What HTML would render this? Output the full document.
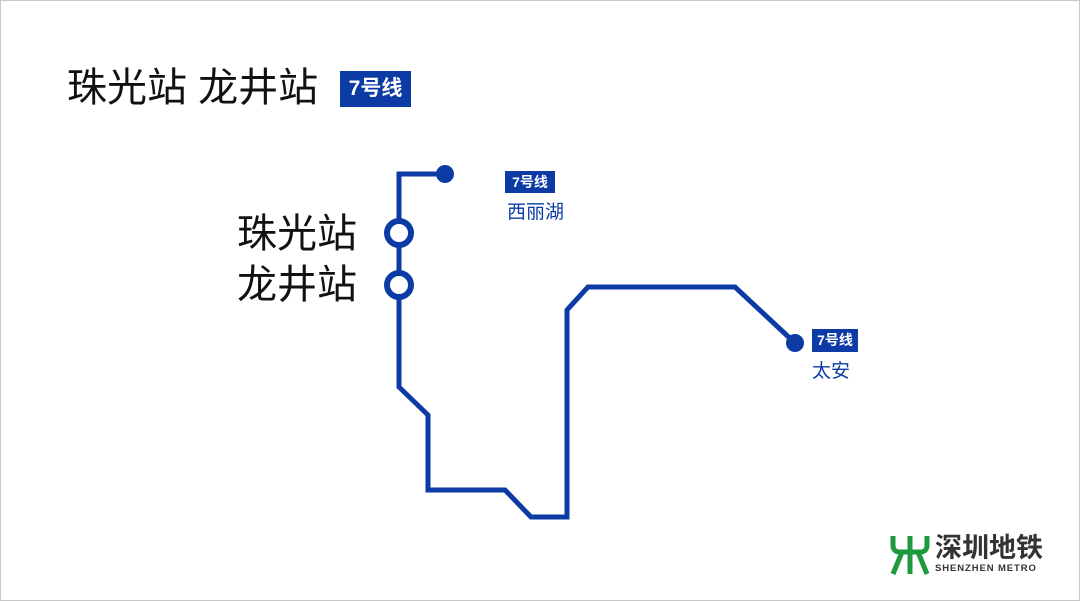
<!DOCTYPE html>
<html><head><meta charset="utf-8"><style>
html,body{margin:0;padding:0;background:#fff}
body{width:1080px;height:601px;overflow:hidden;position:relative;font-family:"Liberation Sans","Noto Sans CJK SC",sans-serif}
.frame{position:absolute;left:0;top:0;width:1078px;height:599px;border:1px solid #c8c8c8}
.t{position:absolute;white-space:nowrap;line-height:1}
.b{position:absolute;background:#0d3ba6;color:#fff;font-weight:bold;text-align:center}
</style></head><body>
<div class="frame"></div>
<div class="t" style="left:67px;top:68px;font-size:40px;color:#111">珠光站 龙井站</div>
<div class="b" style="left:340px;top:71px;width:71px;height:36px;line-height:36px;font-size:21px">7号线</div>
<div class="t" style="left:237px;top:214px;font-size:40px;color:#111">珠光站</div>
<div class="t" style="left:237px;top:265px;font-size:40px;color:#111">龙井站</div>
<div class="b" style="left:505px;top:171px;width:50px;height:22px;line-height:22px;font-size:14px">7号线</div>
<div class="t" style="left:507px;top:203px;font-size:19px;color:#0d3ba6">西丽湖</div>
<div class="b" style="left:812px;top:329px;width:46px;height:23px;line-height:23px;font-size:14px">7号线</div>
<div class="t" style="left:812px;top:362px;font-size:19px;color:#0d3ba6">太安</div>
<svg width="1080" height="601" style="position:absolute;left:0;top:0">
<polyline points="445,174 399,174 399,387 428,415 428,490 505,490 531,517 567,517 567,310 588,287 735,287 795,343" fill="none" stroke="#0d3ba6" stroke-width="5"/>
<circle cx="445" cy="174" r="9" fill="#0d3ba6"/>
<circle cx="795" cy="343" r="9" fill="#0d3ba6"/>
<circle cx="399" cy="233" r="12" fill="#fff" stroke="#0d3ba6" stroke-width="6"/>
<circle cx="399" cy="285" r="12" fill="#fff" stroke="#0d3ba6" stroke-width="6"/>
<g stroke="#1e9a3e" stroke-width="5" fill="none">
<path d="M893,536 L893,545 Q893,552 900,552 L920,552 Q927,552 927,545 L927,536"/>
<path d="M910,536 L910,574"/>
<path d="M902,552 L893,574 M918,552 L927,574"/>
</g>
</svg>
<div class="t" style="left:935px;top:535px;font-size:27px;font-weight:bold;color:#333">深圳地铁</div>
<div class="t" style="left:935px;top:564px;font-size:9.5px;font-weight:bold;color:#333;letter-spacing:0.9px">SHENZHEN METRO</div>
</body></html>
